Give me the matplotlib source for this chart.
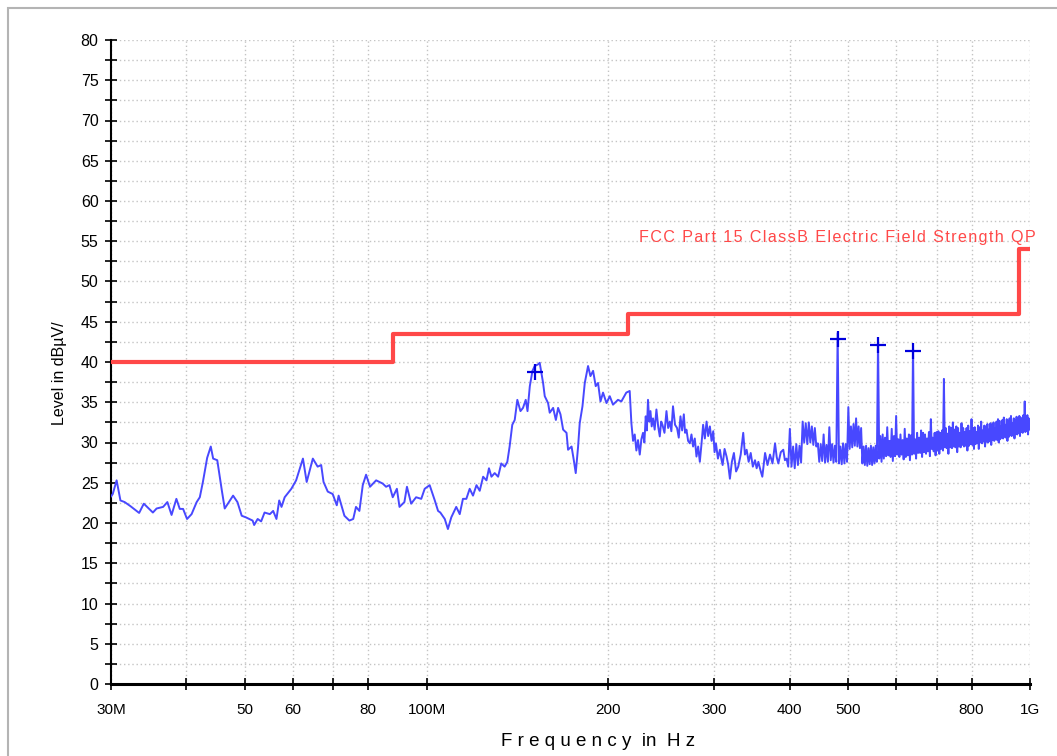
import matplotlib.pyplot as plt
from matplotlib.patches import Rectangle
from matplotlib.ticker import FixedLocator, MultipleLocator, NullLocator

plt.rcParams['font.family'] = ['Liberation Sans', 'DejaVu Sans']

# measured trace, 30 - 217 MHz (MHz, dBuV/m)
sweep_freq = [
    30.0, 30.2, 30.65, 31.1, 31.6, 32.3, 33.4, 34.0, 35.2, 35.7, 36.6, 37.2, 37.8, 38.5,
    39.0, 39.5, 40.1, 40.8, 41.6, 42.1, 42.6, 43.3, 43.9, 44.3, 45.0, 45.8, 46.3, 47.8,
    48.6, 49.4, 50.2, 51.5, 51.8, 52.5, 53.2, 53.9, 55.0, 55.7, 56.4, 57.0, 57.5, 58.2,
    59.7, 60.8, 62.4, 63.3, 64.8, 66.0, 66.9, 67.5, 68.6, 69.9, 71.0, 71.5, 73.1, 74.5,
    75.6, 76.4, 77.4, 78.4, 79.4, 80.6, 82.5, 84.6, 85.7, 86.8, 87.9, 89.3, 90.2, 91.9,
    92.8, 94.3, 96.1, 98.0, 99.3, 101.2, 103.2, 104.5, 105.4, 107.2, 108.5, 109.9, 112.0,
    113.5, 114.9, 116.4, 117.9, 119.4, 121.0, 122.5, 124.1, 125.7, 126.9, 128.1, 129.7,
    131.4, 133.0, 134.7, 136.1, 137.3, 138.7, 140.0, 141.4, 143.1, 144.5, 146.0, 147.0,
    148.3, 149.8, 151.1, 153.0, 154.0, 156.0, 157.0, 159.0, 160.0, 162.1, 163.8, 165.2,
    166.7, 168.4, 170.6, 171.6, 173.9, 175.4, 176.7, 178.3, 179.4, 181.3, 182.9, 185.2,
    186.9, 188.8, 190.7, 192.4, 194.2, 196.1, 198.7, 201.2, 203.7, 207.6, 210.3, 214.3,
    217.1,
]
sweep_level = [
    23.3, 23.6, 25.3, 22.8, 22.6, 22.1, 21.25, 22.4, 21.3, 21.8, 22.0, 22.6, 21.0, 23.0,
    21.75, 21.75, 20.5, 21.1, 22.6, 23.2, 25.1, 28.1, 29.5, 28.0, 27.8, 24.0, 21.8, 23.4,
    22.6, 20.9, 20.7, 20.3, 19.75, 20.5, 20.2, 21.3, 21.1, 21.5, 20.5, 22.8, 22.0, 23.2,
    24.25, 25.3, 28.0, 25.1, 28.0, 27.0, 27.2, 25.1, 23.9, 23.6, 22.2, 23.4, 20.9, 20.3,
    20.5, 22.0, 21.5, 24.7, 26.0, 24.5, 25.3, 24.9, 24.5, 24.7, 23.2, 24.25, 22.0, 22.6,
    24.5, 22.4, 23.2, 23.0, 24.25, 24.7, 22.8, 21.5, 21.3, 20.5, 19.25, 20.7, 22.0,
    21.1, 23.0, 23.0, 24.25, 23.4, 24.7, 24.0, 25.75, 25.3, 26.8, 25.75, 26.2,
    25.75, 27.4, 27.0, 27.6, 29.5, 32.2, 32.8, 35.3, 33.9, 34.3, 35.3, 33.9,
    37.0, 38.9, 39.5, 39.7, 39.9, 37.4, 35.75, 34.9, 33.7, 34.3, 32.8, 34.3,
    33.5, 31.6, 31.2, 29.1, 29.5, 27.8, 26.2, 29.5, 32.4, 34.5, 37.4, 39.5,
    38.25, 38.9, 37.0, 37.4, 35.1, 36.2, 34.9, 35.75, 34.7, 35.3, 35.1, 36.2,
    36.4,
]

# measured trace, 218 - 400 MHz
mid_freq = [
    218.5, 219.9, 221.3, 222.7, 224.1, 225.6, 227.0, 228.4, 229.6, 230.8, 231.8, 232.8,
    233.9, 235.0, 236.1, 237.3, 238.8, 240.4, 242.0, 243.5, 244.8, 246.0, 247.9, 249.8,
    251.4, 253.0, 254.5, 256.1, 258.1, 260.1, 261.8, 263.5, 265.2, 266.9, 268.2, 269.6,
    271.3, 273.1, 274.8, 276.5, 278.3, 280.1, 281.9, 283.7, 285.5, 287.3, 289.2, 291.1,
    292.9, 294.8, 296.7, 298.6, 300.1, 301.7, 304.0, 306.3, 307.9, 309.5, 311.8, 314.2,
    316.2, 318.2, 320.6, 323.1, 325.8, 328.5, 331.6, 334.8, 337.0, 339.2, 341.8, 344.5,
    347.3, 350.2, 352.4, 354.7, 357.4, 360.1, 362.0, 363.9, 367.3, 370.8, 374.4, 378.0,
    380.4, 382.8, 386.4, 390.1, 392.5, 395.0, 397.5,
]
mid_level = [
    32.4, 30.2, 31.0, 29.0, 30.3, 28.5, 30.4, 31.2, 30.0, 33.25, 31.5, 35.3,
    32.6, 33.9, 32.0, 33.0, 31.6, 34.1, 32.0, 30.75, 32.6, 32.2, 31.2, 33.9,
    31.8, 32.6, 31.4, 34.5, 32.2, 31.8, 30.6, 33.25, 31.5, 33.5, 31.2, 31.6,
    30.2, 29.9, 31.0, 29.5, 30.5, 28.25, 29.5, 27.6, 29.8, 32.2, 30.5, 32.6,
    30.8, 32.0, 30.2, 31.4, 28.8, 29.9, 28.0, 29.1, 28.0, 27.2, 29.2, 28.25,
    27.2, 25.5, 27.6, 28.7, 26.4, 27.0, 28.5, 31.2, 28.5, 29.1, 27.6, 28.7,
    27.0, 27.8, 26.8, 27.6, 26.6, 25.75, 27.2, 28.7, 27.2, 28.5, 27.4, 29.9,
    28.2, 27.4, 28.8, 29.1, 27.8, 28.0, 27.0,
]

# measured trace, 400 - 700 MHz (2.5 MHz steps)
dense_freq = [
    400, 402.5, 405, 407.5, 410, 412.5, 415, 417.5, 420, 422.5, 425, 427.5,
    430, 432.5, 435, 437.5, 440, 442.5, 445, 447.5, 450, 452.5, 455, 457.5,
    460, 462.5, 465, 467.5, 470, 472.5, 475, 477.5, 480, 482.5, 485, 487.5,
    490, 492.5, 495, 497.5, 500, 502.5, 505, 507.5, 510, 512.5, 515, 517.5,
    520, 522.5, 525, 527.5, 530, 532.5, 535, 537.5, 540, 542.5, 545, 547.5,
    550, 552.5, 555, 557.5, 560, 562.5, 565, 567.5, 570, 572.5, 575, 577.5,
    580, 582.5, 585, 587.5, 590, 592.5, 595, 597.5, 600, 602.5, 605, 607.5,
    610, 612.5, 615, 617.5, 620, 622.5, 625, 627.5, 630, 632.5, 635, 637.5,
    640, 642.5, 645, 647.5, 650, 652.5, 655, 657.5, 660, 662.5, 665, 667.5,
    670, 672.5, 675, 677.5, 680, 682.5, 685, 687.5, 690, 692.5, 695, 697.5,
]
dense_level = [
    31.7, 27.0, 29.5, 26.8, 29.8, 27.2, 29.6, 27.5, 32.6, 30.0, 32.4, 29.8,
    32.5, 30.0, 32.0, 29.7, 31.8, 29.5, 29.9, 27.6, 29.8, 27.7, 31.0, 27.5,
    29.7, 27.6, 31.9, 27.8, 29.8, 27.5, 29.6, 27.6, 43.6, 27.4, 29.5, 27.3,
    29.9, 27.4, 29.8, 27.6, 34.4, 29.2, 32.0, 29.4, 32.3, 29.6, 33.0, 29.5,
    32.0, 29.3, 31.8, 27.4, 29.5, 27.2, 29.6, 27.1, 29.3, 27.3, 29.6, 27.2,
    29.4, 27.4, 29.6, 27.6, 42.9, 28.0, 30.8, 27.6, 31.0, 28.0, 30.6, 28.3,
    31.9, 28.4, 30.2, 28.2, 31.7, 27.7, 30.8, 28.3, 33.3, 28.5, 30.4, 28.2,
    31.0, 28.5, 30.3, 27.9, 31.7, 28.2, 30.5, 28.4, 31.0, 27.8, 30.9, 28.5,
    42.2, 28.6, 30.4, 28.0, 31.2, 28.7, 30.6, 28.7, 31.5, 28.2, 31.2, 28.8,
    31.0, 28.6, 30.5, 28.9, 31.3, 28.3, 32.9, 29.2, 30.6, 28.9, 31.2, 28.4,
]

# measured trace, 700 MHz - 1 GHz (2.5 MHz steps)
top_freq = [
    700, 702.5, 705, 707.5, 710, 712.5, 715, 717.5, 720, 722.5,
    725, 727.5, 730, 732.5, 735, 737.5, 740, 742.5, 745, 747.5,
    750, 752.5, 755, 757.5, 760, 762.5, 765, 767.5, 770, 772.5,
    775, 777.5, 780, 782.5, 785, 787.5, 790, 792.5, 795, 797.5,
    800, 802.5, 805, 807.5, 810, 812.5, 815, 817.5, 820, 822.5,
    825, 827.5, 830, 832.5, 835, 837.5, 840, 842.5, 845, 847.5,
    850, 852.5, 855, 857.5, 860, 862.5, 865, 867.5, 870, 872.5,
    875, 877.5, 880, 882.5, 885, 887.5, 890, 892.5, 895, 897.5,
    900, 902.5, 905, 907.5, 910, 912.5, 915, 917.5, 920, 922.5,
    925, 927.5, 930, 932.5, 935, 937.5, 940, 942.5, 945, 947.5,
    950, 952.5, 955, 957.5, 960, 962.5, 965, 967.5, 970, 972.5,
    975, 977.5, 980, 982.5, 985, 987.5, 990, 992.5, 995, 997.5,
    1000,
]
top_level = [
    31.3, 29.0, 31.4, 28.6, 31.2, 29.2, 31.5, 29.0, 37.9, 29.4,
    31.8, 29.3, 31.1, 28.6, 32.0, 29.4, 31.8, 29.3, 32.5, 29.5,
    31.6, 29.4, 32.0, 28.8, 31.8, 29.5, 31.2, 29.4, 32.4, 29.7,
    31.8, 29.5, 31.3, 29.6, 31.8, 29.0, 32.1, 29.6, 31.4, 29.8,
    32.9, 29.7, 31.8, 29.2, 31.9, 29.8, 31.3, 29.9, 32.1, 29.2,
    31.9, 30.0, 32.6, 29.9, 31.5, 30.1, 32.1, 29.5, 32.0, 30.1,
    32.3, 30.0, 31.6, 30.2, 32.4, 29.7, 32.2, 30.3, 32.5, 30.2,
    31.8, 30.4, 32.6, 30.3, 32.9, 30.0, 32.7, 30.4, 32.0, 30.6,
    32.8, 30.5, 33.1, 30.7, 32.2, 30.6, 32.9, 30.2, 32.7, 30.7,
    33.0, 30.9, 33.3, 30.8, 32.4, 31.0, 33.0, 30.5, 32.8, 31.1,
    33.2, 31.0, 32.6, 31.2, 33.3, 30.8, 33.1, 31.3, 32.6, 31.2,
    33.4, 31.4, 35.1, 31.3, 32.8, 31.5, 33.4, 31.0, 33.0, 31.6,
    32.4,
]

# limit line
limit_freq = [30, 88, 216, 960, 1000]
limit_level = [40, 43.5, 46, 54, 54]

# peak markers
marker_freq = [151.1, 480, 560, 640]
marker_level = [38.8, 42.8, 42.1, 41.4]

xtick_vals = [30, 40, 50, 60, 70, 80, 100, 200, 300, 400, 500, 600, 700, 800, 1000]
xtick_labels = ['30M', '', '50', '60', '', '80', '100M', '200', '300', '400', '500',
                '', '', '800', '1G']

limit_name = 'FCC Part 15 ClassB Electric Field Strength QP'

fig = plt.figure(figsize=(10.57, 7.56), dpi=100)
fig.patch.set_facecolor('white')

# light gray frame round the plot
fig.patches.append(Rectangle((8 / 1057, -0.1), 1.2, 1.1 - 8 / 756,
                             transform=fig.transFigure, fill=False,
                             edgecolor='#b4b4b4', linewidth=1.5))

ax = fig.add_axes([111 / 1057, 72 / 756, 919 / 1057, 644 / 756])

freq = sweep_freq + mid_freq + dense_freq + top_freq
level = sweep_level + mid_level + dense_level + top_level
ax.plot(freq, level, color='#4848ff', linewidth=1.4, zorder=3)
ax.step(limit_freq, limit_level, where='post', color='#ff4848',
        linewidth=3, zorder=4)
ax.plot(marker_freq, marker_level, '+', color='#0000dd',
        markersize=12, markeredgewidth=1.6, zorder=5)

# letter spaced like the original
ax.text(1023, 55.5, '\u200a'.join(limit_name), family=['Liberation Sans', 'DejaVu Sans'],
        color='#ff4848', fontsize=11.6, ha='right', va='center', clip_on=False)

ax.set_xscale('log')
ax.set_xlim(30, 1000)
ax.set_ylim(0, 80)

ax.xaxis.set_major_locator(FixedLocator(xtick_vals))
ax.xaxis.set_minor_locator(NullLocator())
ax.set_xticklabels(xtick_labels)
ax.yaxis.set_major_locator(MultipleLocator(5))
ax.yaxis.set_minor_locator(MultipleLocator(2.5))

ax.grid(which='both', axis='y', color='#c4c4c4', linestyle=(0, (1, 2)), linewidth=1)
ax.grid(which='major', axis='x', color='#c4c4c4', linestyle=(0, (1, 2)), linewidth=1)
ax.set_axisbelow(True)

for side in ['top', 'right']:
    ax.spines[side].set_visible(False)
ax.spines['left'].set_linewidth(1.5)
ax.spines['bottom'].set_linewidth(2.2)

ax.tick_params(axis='both', which='both', direction='inout', length=8,
               width=1.2, color='black')
ax.tick_params(axis='y', labelsize=11.5, pad=5)
ax.tick_params(axis='x', labelsize=11, pad=10)

ax.set_ylabel('Level in dBµV/', fontsize=11.5)
ax.yaxis.set_label_coords(-0.048, 0.483)
fig.text(598 / 1057, 1 - 742 / 756, 'F r e q u e n c y  in  H z',
         fontsize=13.5, ha='center', va='center')

fig.savefig('out.png', dpi=100)
